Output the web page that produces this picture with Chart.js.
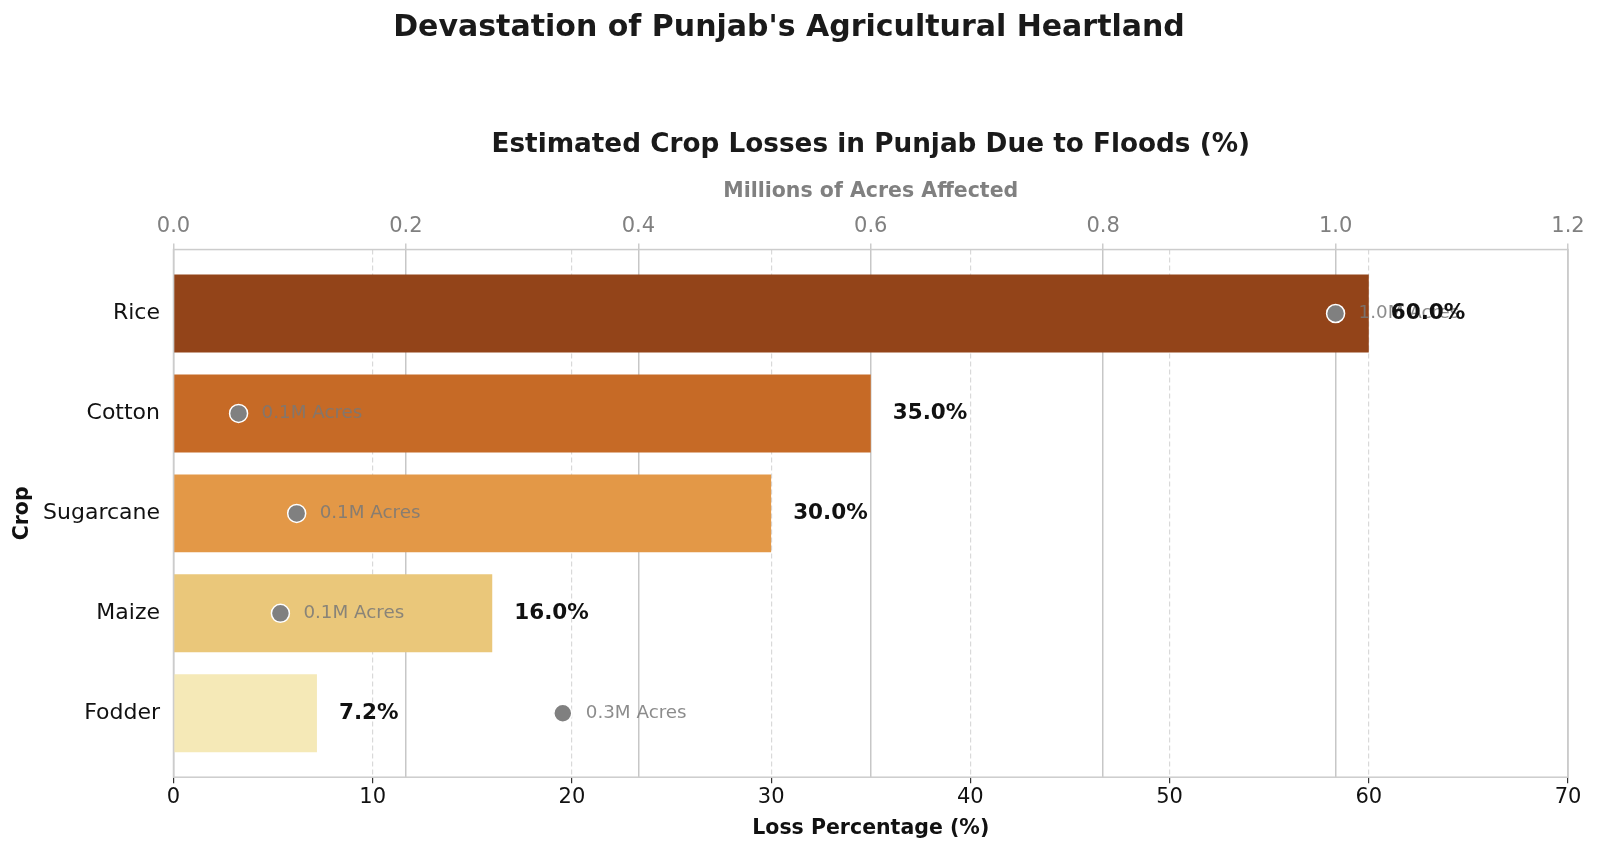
<!DOCTYPE html>
<html>
<head>
<meta charset="utf-8">
<title>Crop Losses in Punjab</title>
<script src="https://cdn.jsdelivr.net/npm/chart.js@4.4.1/dist/chart.umd.min.js"></script>
<style>
    html, body { margin: 0; padding: 0; background: #ffffff; }
    #wrap { width: 1600px; height: 851px; }
</style>
</head>
<body>
<div id="wrap"><canvas id="cropChart"></canvas></div>
<script>
// Chart data
const crops = ['Rice', 'Cotton', 'Sugarcane', 'Maize', 'Fodder'];
const lossPercent = [60, 35, 30, 16, 7.2];
const acresMillions = [1.0, 0.056, 0.106, 0.092, 0.335];
const barColors = ['#934419', '#C66A26', '#E39847', '#EAC77A', '#F5E9B7'];

Chart.defaults.font.family = "'DejaVu Sans', sans-serif";
Chart.defaults.color = '#111111';

// Light grey frame around the plot area
const plotFrame = {
    id: 'plotFrame',
    afterDraw(chart) {
        const { ctx, chartArea: a } = chart;
        ctx.save();
        ctx.strokeStyle = '#cccccc';
        ctx.lineWidth = 1.5;
        ctx.strokeRect(a.left, a.top, a.right - a.left, a.bottom - a.top);
        ctx.restore();
    }
};

// Text next to points and bars
const valueLabels = {
    id: 'valueLabels',
    afterDraw(chart) {
        const ctx = chart.ctx;
        ctx.save();
        ctx.textAlign = 'left';
        ctx.textBaseline = 'middle';

        ctx.font = "18.3px 'DejaVu Sans'";
        ctx.fillStyle = 'rgba(120, 120, 120, 0.85)';
        chart.getDatasetMeta(1).data.forEach((pt, i) => {
            ctx.fillText(acresMillions[i].toFixed(1) + 'M Acres', pt.x + 23, pt.y);
        });

        ctx.font = "bold 21.5px 'DejaVu Sans'";
        ctx.fillStyle = '#111111';
        chart.getDatasetMeta(0).data.forEach((bar, i) => {
            ctx.fillText(lossPercent[i].toFixed(1) + '%', bar.x + 22, bar.y);
        });
        ctx.restore();
    }
};

const ctx = document.getElementById('cropChart').getContext('2d');
const cropChart = new Chart(ctx, {
    type: 'bar',
    data: {
        datasets: [
            {
                type: 'bar',
                label: 'Loss Percentage',
                data: crops.map((c, i) => ({ x: lossPercent[i], y: i })),
                backgroundColor: barColors,
                xAxisID: 'x',
                yAxisID: 'y',
                barPercentage: 0.78,
                categoryPercentage: 1,
                order: 2
            },
            {
                type: 'scatter',
                label: 'Millions of Acres',
                data: crops.map((c, i) => ({ x: acresMillions[i], y: i })),
                xAxisID: 'x2',
                yAxisID: 'y',
                pointRadius: 9,
                backgroundColor: '#808080',
                borderColor: '#ffffff',
                borderWidth: 1.5,
                order: 1
            }
        ]
    },
    options: {
        indexAxis: 'y',
        responsive: true,
        maintainAspectRatio: false,
        animation: false,
        layout: {
            padding: { left: 10, right: 32, top: 0, bottom: 10 }
        },
        plugins: {
            legend: { display: false },
            tooltip: { enabled: false },
            title: {
                display: true,
                text: "Devastation of Punjab's Agricultural Heartland",
                color: '#1a1a1a',
                font: { size: 30, weight: 'bold' },
                padding: { top: 10, bottom: 0 }
            },
            subtitle: {
                display: true,
                fullSize: false,
                text: 'Estimated Crop Losses in Punjab Due to Floods (%)',
                color: '#1a1a1a',
                font: { size: 26.3, weight: 'bold' },
                padding: { top: 83, bottom: 0 }
            }
        },
        scales: {
            x: {
                type: 'linear',
                axis: 'x',
                position: 'bottom',
                min: 0,
                max: 70,
                ticks: {
                    stepSize: 10,
                    color: '#111111',
                    font: { size: 21 },
                    padding: 2
                },
                grid: {
                    color: (c) => (c.tick && (c.tick.value === 0 || c.tick.value === 70)) ? 'rgba(0,0,0,0)' : '#d9d9d9',
                    lineWidth: 1.2,
                    tickColor: '#333333',
                    tickWidth: 1.2,
                    tickLength: 6,
                    tickBorderDash: []
                },
                border: { display: false, dash: [5, 3] },
                title: {
                    display: true,
                    text: 'Loss Percentage (%)',
                    color: '#111111',
                    font: { size: 20.5, weight: 'bold' },
                    padding: { top: 4, bottom: 0 }
                }
            },
            x2: {
                type: 'linear',
                axis: 'x',
                position: 'top',
                min: 0,
                max: 1.2,
                z: 1,
                ticks: {
                    stepSize: 0.2,
                    color: '#808080',
                    font: { size: 21 },
                    padding: 4,
                    callback: (v) => v.toFixed(1)
                },
                grid: {
                    color: 'rgba(185, 185, 185, 0.8)',
                    lineWidth: 1.5,
                    tickColor: '#cccccc',
                    tickLength: 6
                },
                border: { display: false },
                title: {
                    display: true,
                    text: 'Millions of Acres Affected',
                    color: '#808080',
                    font: { size: 20.5, weight: 'bold' },
                    padding: { top: 19, bottom: 6.2 }
                }
            },
            y: {
                type: 'linear',
                axis: 'y',
                position: 'left',
                reverse: true,
                offset: false,
                min: -0.64,
                max: 4.64,
                afterFit: (scale) => { scale.width = 163.5; },
                ticks: {
                    stepSize: 1,
                    includeBounds: false,
                    autoSkip: false,
                    color: '#111111',
                    font: { size: 22 },
                    padding: 13.5,
                    callback: (v) => (Number.isInteger(v) && crops[v] !== undefined) ? crops[v] : ''
                },
                grid: { drawOnChartArea: false, drawTicks: false, offset: false },
                border: { display: false },
                title: {
                    display: true,
                    text: 'Crop',
                    color: '#111111',
                    font: { size: 20.5, weight: 'bold' },
                    padding: { top: 0, bottom: 10 }
                }
            }
        }
    },
    plugins: [plotFrame, valueLabels]
});
</script>
</body>
</html>
